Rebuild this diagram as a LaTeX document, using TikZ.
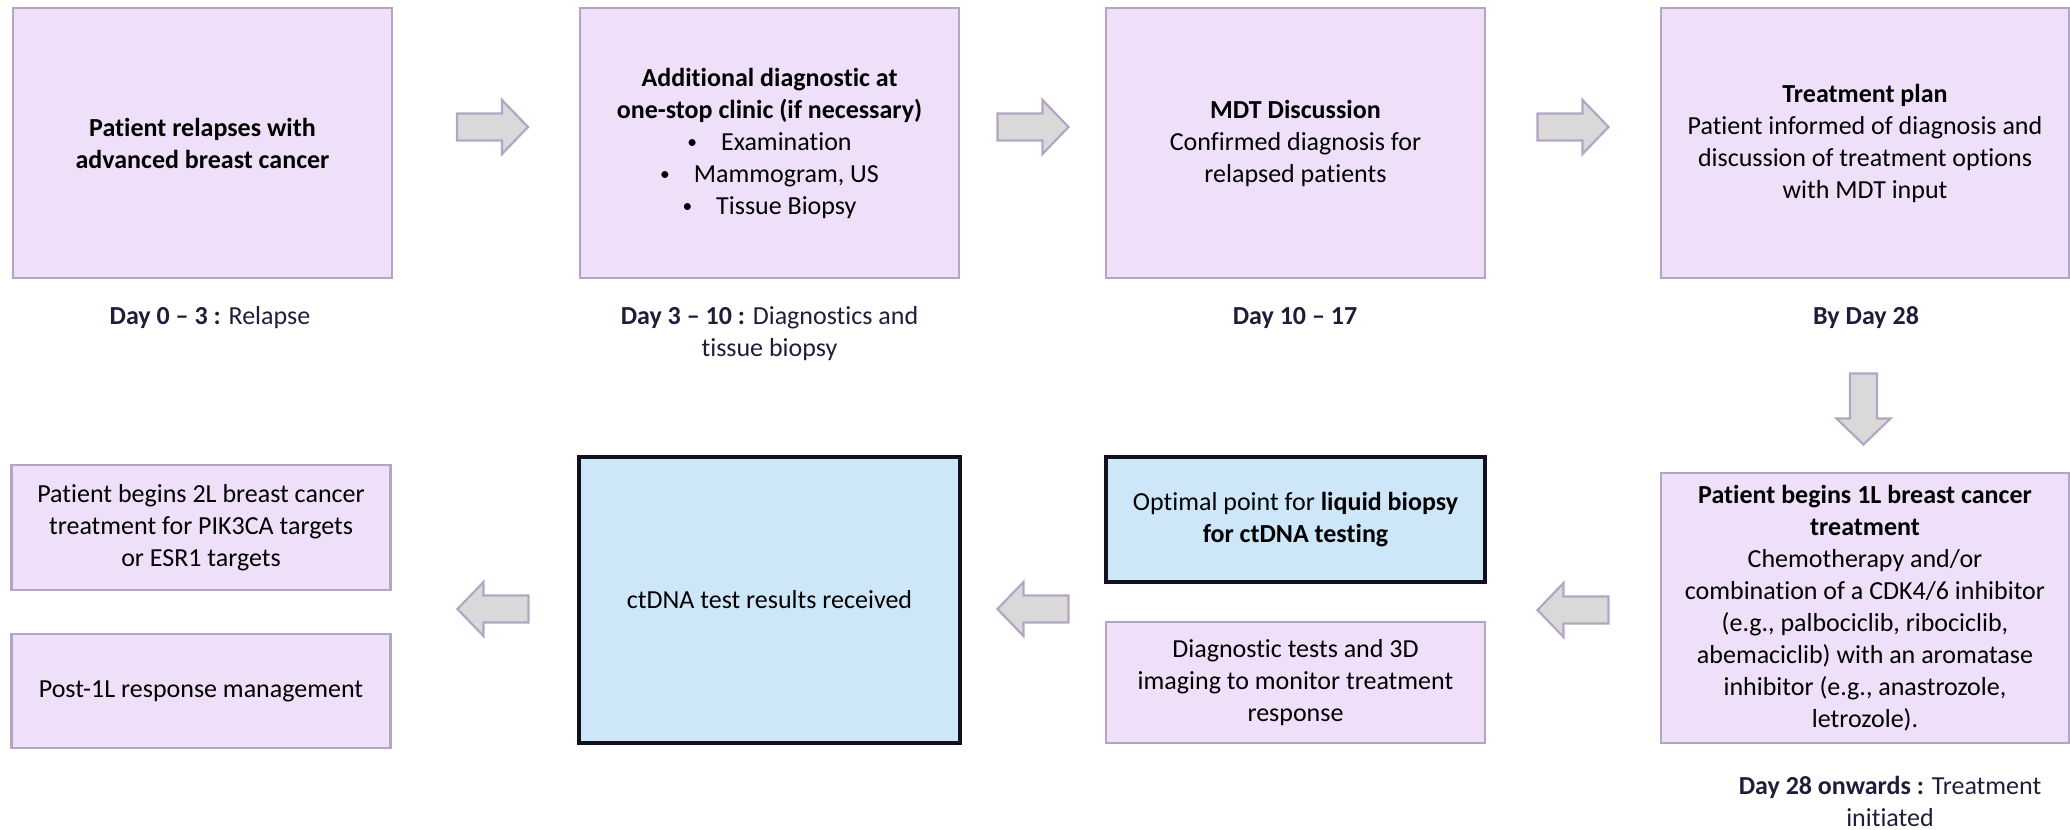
\documentclass[tikz,border=0pt]{standalone}
\usepackage{fontspec}
\setmainfont{Carlito}[Ligatures=NoCommon]
\definecolor{boxfill}{HTML}{EFDFF9}
\definecolor{boxline}{HTML}{B3A6C4}
\definecolor{keyfill}{HTML}{CDE7F8}
\definecolor{keyline}{HTML}{10101E}
\definecolor{arrowfill}{HTML}{D9D9D9}
\definecolor{labeltext}{HTML}{1E1E3A}
\newcommand\boxfont{\fontsize{26}{32}\selectfont}
\newcommand\listdot{\raisebox{1.5pt}{\scalebox{0.75}{\textbullet}}\hspace{24pt}}
\begin{document}
\begin{tikzpicture}[x=1pt,y=-1pt,
  stage/.style={draw=boxline, fill=boxfill, line width=2.5pt, inner sep=0pt,
    align=center, text=black, font=\boxfont},
  keystage/.style={stage, draw=keyline, fill=keyfill, line width=4pt},
  daylabel/.style={inner sep=0pt, align=center, text=labeltext, font=\boxfont},
  blockarrow/.pic={
    \draw[draw=boxline, fill=arrowfill, line width=2.2pt, line join=miter]
      (-35.5,-13.5) -- (9.5,-13.5) -- (9.5,-27) -- (35.5,0) -- (9.5,27)
      -- (9.5,13.5) -- (-35.5,13.5) -- cycle;
  }]
\useasboundingbox (0,0) rectangle (2070,830);

% top row: path from relapse to treatment plan
\node[stage, minimum width=379pt, minimum height=270pt] (relapse) at (202.5,143)
  {\textbf{Patient relapses with}\\\textbf{advanced breast cancer}};
\node[stage, minimum width=379pt, minimum height=270pt] (diag) at (769.5,143)
  {\textbf{Additional diagnostic at}\\\textbf{one-stop clinic (if necessary)}\\
   \listdot Examination\\
   \listdot Mammogram, US\\
   \listdot Tissue Biopsy};
\node[stage, minimum width=379pt, minimum height=270pt] (mdt) at (1295.5,143)
  {\textbf{MDT Discussion}\\Confirmed diagnosis for\\relapsed patients};
\node[stage, minimum width=408pt, minimum height=270pt] (plan) at (1865,143)
  {\textbf{Treatment plan}\\Patient informed of diagnosis and\\discussion of treatment options\\with MDT input};

% timings under the top row
\node[daylabel] (relapseday) at (210,318) {\textbf{Day 0 – 3 :} Relapse};
\node[daylabel] (diagday) at (769.5,334) {\textbf{Day 3 – 10 :} Diagnostics and\\tissue biopsy};
\node[daylabel] (mdtday) at (1295,318) {\textbf{Day 10 – 17}};
\node[daylabel] (planday) at (1866,318) {\textbf{By Day 28}};

% bottom row: treatment and ctDNA testing
\node[stage, minimum width=408pt, minimum height=270pt] (firstline) at (1865,608)
  {\textbf{Patient begins 1L breast cancer}\\\textbf{treatment}\\Chemotherapy and/or\\
   combination of a CDK4/6 inhibitor\\(e.g., palbociclib, ribociclib,\\
   abemaciclib) with an aromatase\\inhibitor (e.g., anastrozole,\\letrozole).};
\node[daylabel] (firstlineday) at (1890,801) {\textbf{Day 28 onwards :} Treatment\\initiated};

\node[keystage, minimum width=379pt, minimum height=125pt] (liquid) at (1295.5,519.5)
  {Optimal point for \textbf{liquid biopsy}\\\textbf{for ctDNA testing}};
\node[stage, minimum width=379pt, minimum height=121pt] (monitor) at (1295.5,682.5)
  {Diagnostic tests and 3D\\imaging to monitor treatment\\response};

\node[keystage, minimum width=381pt, minimum height=286pt] (results) at (769.5,600)
  {ctDNA test results received};

\node[stage, minimum width=379pt, minimum height=125pt] (secondline) at (201,527.5)
  {Patient begins 2L breast cancer\\treatment for PIK3CA targets\\or ESR1 targets};
\node[stage, minimum width=379pt, minimum height=114pt] (post) at (201,691)
  {Post-1L response management};

% block arrows between the stages
\pic (relapse-diag) at (492.5,127) {blockarrow};
\pic (diag-mdt) at (1033,127) {blockarrow};
\pic (mdt-plan) at (1573,127) {blockarrow};
\pic[rotate=-90] (plan-firstline) at (1863.5,409) {blockarrow};
\pic[rotate=180] (firstline-monitor) at (1573,610) {blockarrow};
\pic[rotate=180] (monitor-results) at (1033,609) {blockarrow};
\pic[rotate=180] (results-post) at (493,609) {blockarrow};
\end{tikzpicture}
\end{document}
